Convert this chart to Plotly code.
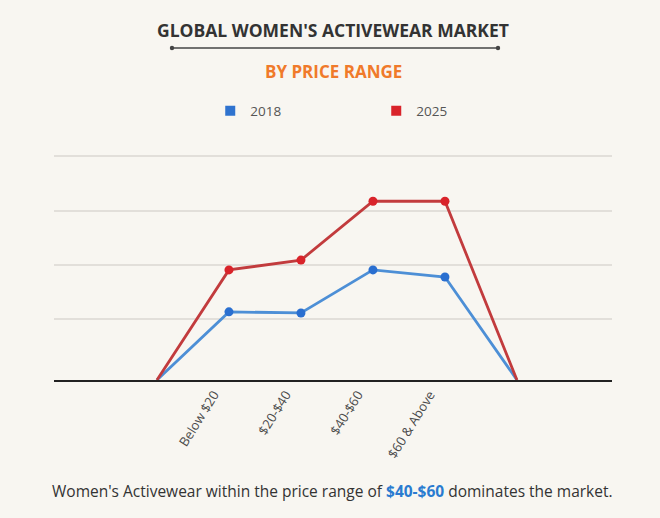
import plotly.graph_objects as go

# ---- data ----
categories = ["", "Below $20", "$20-$40", "$40-$60", "$60 & Above", ""]
x_pos = [0, 1, 2, 3, 4, 5]
values_2018 = [0, 1.25, 1.23, 2.02, 1.89, 0]
values_2025 = [0, 2.02, 2.20, 3.28, 3.28, 0]
grid_vals = [1.12, 2.11, 3.10, 4.11]

BG = "#f8f6f1"
BLUE_LINE = "#4d8fd6"
BLUE_DOT = "#2a6fd0"
RED_LINE = "#c23b3d"
RED_DOT = "#d9232a"

fig = go.Figure()

def add_series(y, line_col, dot_col):
    fig.add_trace(go.Scatter(x=x_pos, y=y, mode="lines",
                             line=dict(color=line_col, width=2.8),
                             showlegend=False, hoverinfo="skip"))
    fig.add_trace(go.Scatter(x=x_pos[1:-1], y=y[1:-1], mode="markers",
                             marker=dict(color=dot_col, size=9),
                             showlegend=False))

add_series(values_2018, BLUE_LINE, BLUE_DOT)
add_series(values_2025, RED_LINE, RED_DOT)

# legend entries
fig.add_trace(go.Scatter(x=[None], y=[None], mode="markers", name="2018",
                         marker=dict(symbol="square", color="#2f73cf", size=10)))
fig.add_trace(go.Scatter(x=[None], y=[None], mode="markers", name="2025",
                         marker=dict(symbol="square", color="#d9232a", size=10)))

fig.update_layout(
    width=660, height=518,
    paper_bgcolor=BG, plot_bgcolor=BG,
    margin=dict(l=54, r=48, t=150, b=138),
    font=dict(family="Open Sans", color="#444"),
    showlegend=True,
    legend=dict(orientation="h", x=0.28, xanchor="left", y=1.17, yanchor="middle",
                entrywidth=121, bgcolor="rgba(0,0,0,0)",
                font=dict(size=13.5, color="#555", family="Open Sans")),
    xaxis=dict(range=[-1.43, 6.32], tickmode="array", tickvals=x_pos[1:-1],
               ticktext=categories[1:-1], tickangle=-58, showgrid=False,
               zeroline=False, showline=True, linecolor="#222", linewidth=2,
               ticks="", ticklabelshift=-15,
               tickfont=dict(size=13, color="#4a4a4a", family="Open Sans")),
    yaxis=dict(range=[0, 4.22], tickmode="array", tickvals=grid_vals,
               showticklabels=False, showgrid=True, gridcolor="#e2dfda",
               gridwidth=1.5, zeroline=False, showline=False),
)

def px_x(px):
    return (px - 54) / 558
def px_y(py):
    return (380 - py) / 230

# title and subtitle
fig.add_annotation(xref="paper", yref="paper", x=px_x(333), y=px_y(30),
                   text="<b>GLOBAL WOMEN'S ACTIVEWEAR MARKET</b>", showarrow=False,
                   font=dict(size=17.5, color="#333", family="Open Sans"),
                   xanchor="center", yanchor="middle")
fig.add_annotation(xref="paper", yref="paper", x=px_x(333), y=px_y(71),
                   text="<b>BY PRICE RANGE</b>", showarrow=False,
                   font=dict(size=17, color="#f07a2a", family="Open Sans"),
                   xanchor="center", yanchor="middle")
# caption
fig.add_annotation(xref="paper", yref="paper", x=px_x(332), y=px_y(491),
                   text="Women's Activewear within the price range of "
                        "<b><span style='color:#2a7bd0'>$40-$60</span></b> dominates the market.",
                   showarrow=False,
                   font=dict(size=15.5, color="#333", family="Open Sans"),
                   xanchor="center", yanchor="middle")

# decorative rule under the title
fig.add_shape(type="line", xref="paper", yref="paper",
              x0=px_x(172), x1=px_x(498), y0=px_y(48), y1=px_y(48),
              line=dict(color="#444", width=1.5))
for cx in (172, 498):
    fig.add_shape(type="circle", xref="paper", yref="paper",
                  x0=px_x(cx - 2.2), x1=px_x(cx + 2.2),
                  y0=px_y(48 + 2.2), y1=px_y(48 - 2.2),
                  fillcolor="#444", line=dict(width=0))

fig.write_html("out.html", config={"displayModeBar": False},
               post_script="document.body.style.margin='0';document.body.style.background='%s';" % BG)
